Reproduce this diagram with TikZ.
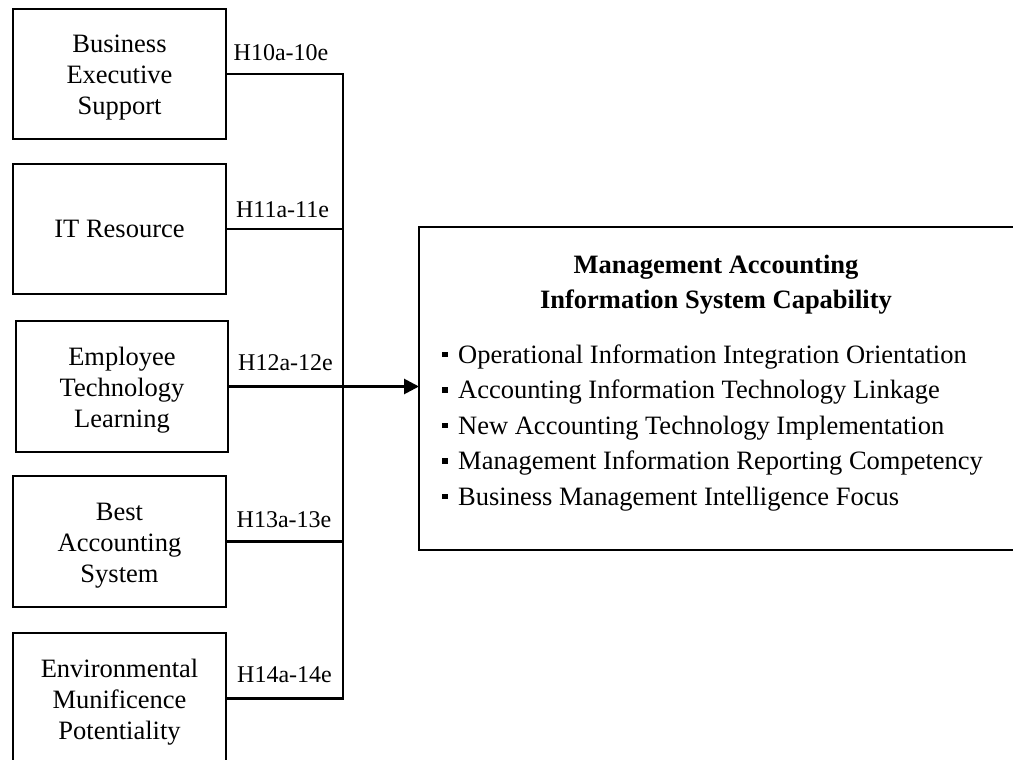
\documentclass[tikz,border=0pt]{standalone}
\usepackage{fontspec}
\setmainfont{Liberation Serif}
\usetikzlibrary{arrows.meta}
% small filled square used as list bullet
\newcommand\sqbullet{\raisebox{6pt}{\rule{5.5pt}{5.5pt}}\hspace{10.5pt}}
\begin{document}
\begin{tikzpicture}[x=1pt,y=-1pt,
  box/.style={draw, line width=2.8pt, minimum width=213pt, minimum height=130pt,
              inner sep=0pt, outer sep=0pt},
  boxtext/.style={inner sep=0pt, align=center, font=\fontsize{26.5}{31}\selectfont},
  hyp/.style={inner sep=0pt, anchor=base, font=\fontsize{24}{28}\selectfont},
  link/.style={line width=2.8pt},
  item/.style={inner sep=0pt, anchor=base west, font=\fontsize{26.5}{31}\selectfont},
  titletext/.style={inner sep=0pt, align=center, font=\bfseries\fontsize{26.5}{35}\selectfont},
]
\useasboundingbox (0,0) rectangle (1013,760);
\clip (0,0) rectangle (1013,760);

% antecedent boxes
\node[box] (b1) at (119.5,74) {};
\node[box] (b2) at (119.5,229) {};
\node[box, minimum width=212pt, minimum height=131pt] (b3) at (122,386.5) {};
\node[box, minimum height=131pt] (b4) at (119.5,541.5) {};
\node[box, minimum height=131pt] (b5) at (119.5,698.5) {};

\node[boxtext] (t1) at ([yshift=-4pt]b1.center) {Business\\Executive\\Support};
\node[boxtext] (t2) at (b2.center) {IT Resource};
\node[boxtext] (t3) at ([yshift=-4pt]b3.center) {Employee\\Technology\\Learning};
\node[boxtext] (t4) at ([yshift=-4pt]b4.center) {Best\\Accounting\\System};
\node[boxtext] (t5) at ([yshift=-4pt]b5.center) {Environmental\\Munificence\\Potentiality};

% outcome box
\node[draw, line width=2.8pt, minimum width=595pt, minimum height=323pt,
      inner sep=0pt, outer sep=0pt] (big) at (716.5,388.5) {};
\node[titletext] (title) at (716,284.4) {Management Accounting\\Information System Capability};
\node[item] (i1) at (442,363) {\sqbullet Operational Information Integration Orientation};
\node[item] (i2) at (442,398.5) {\sqbullet Accounting Information Technology Linkage};
\node[item] (i3) at (442,434) {\sqbullet New Accounting Technology Implementation};
\node[item] (i4) at (442,469.5) {\sqbullet Management Information Reporting Competency};
\node[item] (i5) at (442,505) {\sqbullet Business Management Intelligence Focus};

% collecting bus
\coordinate (busx) at (343,0);
\draw[link] (b1.east) -- (b1.east -| busx) -- (b5.east -| busx) -- (b5.east);
\draw[link] (b2.east) -- (b2.east -| busx);
\draw[link] (b4.east) -- (b4.east -| busx);
\draw[link, -{Triangle[length=15pt,width=15pt]}] (b3.east) -- (b3.east -| big.west);

% hypothesis labels
\node[hyp] (h1) at (281,61) {H10a-10e};
\node[hyp] (h2) at (282.5,217) {H11a-11e};
\node[hyp] (h3) at (285.5,370) {H12a-12e};
\node[hyp] (h4) at (284,527) {H13a-13e};
\node[hyp] (h5) at (284.5,682) {H14a-14e};
\end{tikzpicture}
\end{document}
